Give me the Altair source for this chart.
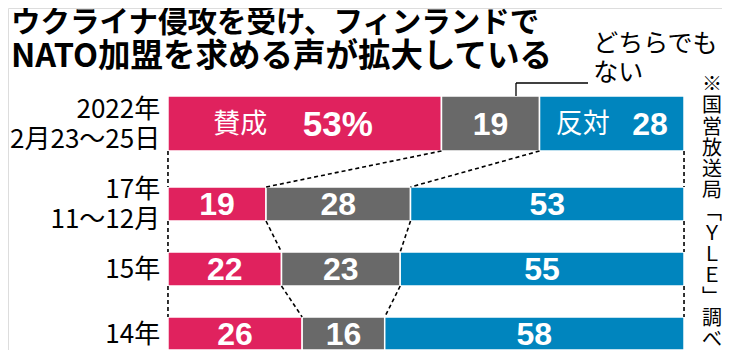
import altair as alt
import pandas as pd

# ---------------- data ----------------
periods = ["2022年\n2月23～25日", "17年\n11～12月", "15年", "14年"]
support = [53, 19, 22, 26]
neutral = [19, 28, 23, 16]
oppose = [28, 53, 55, 58]

title_line1 = "ウクライナ侵攻を受け、フィンランドで"
title_line2 = "NATO加盟を求める声が拡大している"
neutral_note = "どちらでも\nない"
source_chars = ["※", "国", "営", "放", "送", "局", "﹁", "Ｙ", "Ｌ", "Ｅ", "﹂", "調", "べ"]
support_word = "賛成"
oppose_word = "反対"

# ---------------- layout / style ----------------
W, H = 714, 342
ROW_TOP = [88, 179, 244, 309]
ROW_BOT = [143, 213, 278, 342]
X_DOMAIN = [-31.0, 107.36]
CATS = ["support", "neutral", "oppose"]
COLS = ["#E0225E", "#696969", "#0085BE"]
JP = "Noto Sans CJK JP"
NUM = "Liberation Sans"
LABEL_LH = 30

xs = alt.Scale(domain=X_DOMAIN, nice=False, zero=False)
ys = alt.Scale(domain=[0, H], reverse=True, nice=False, zero=False)

# bars
bar_rows = []
for i in range(len(periods)):
    vals = [support[i], neutral[i], oppose[i]]
    start = 0
    for c, v in zip(CATS, vals):
        bar_rows.append({"cat": c, "x0": start, "x1": start + v, "row": i,
                         "y0": ROW_TOP[i], "y1": ROW_BOT[i], "v": v,
                         "mid": start + v / 2, "ym": (ROW_TOP[i] + ROW_BOT[i]) / 2})
        start += v
bars_df = pd.DataFrame(bar_rows)

bars = alt.Chart(bars_df).mark_bar(stroke="white", strokeWidth=1.5).encode(
    x=alt.X("x0:Q", scale=xs, axis=None),
    x2="x1:Q",
    y=alt.Y("y0:Q", scale=ys, axis=None),
    y2="y1:Q",
    color=alt.Color("cat:N", scale=alt.Scale(domain=CATS, range=COLS), legend=None),
)

num_rows, word_rows, big_rows = [], [], []
for r in bar_rows:
    if r["row"] > 0:
        num_rows.append({"t": str(r["v"]), "x": r["mid"], "y": r["ym"] + 1})
    elif r["cat"] == "neutral":
        num_rows.append({"t": str(r["v"]), "x": r["mid"], "y": r["ym"] + 1})
    elif r["cat"] == "support":
        word_rows.append({"t": support_word, "x": r["mid"] - 12.5, "y": r["ym"] + 1})
        big_rows.append({"t": f"{r['v']}%", "x": r["mid"] + 6.4, "y": r["ym"] + 1})
    else:
        word_rows.append({"t": oppose_word, "x": r["mid"] - 5.6, "y": r["ym"] + 1})
        num_rows.append({"t": str(r["v"]), "x": r["mid"] + 7.4, "y": r["ym"] + 1})


def text_layer(df, size, font, weight, color="white", align="center",
               baseline="middle", **kw):
    return alt.Chart(pd.DataFrame(df)).mark_text(
        fontSize=size, font=font, fontWeight=weight, color=color,
        align=align, baseline=baseline, **kw
    ).encode(x=alt.X("x:Q", scale=xs, axis=None),
             y=alt.Y("y:Q", scale=ys, axis=None),
             text="t:N")


nums = text_layer(num_rows, 32, NUM, "bold")
words = text_layer(word_rows, 27, JP, "normal")
big = text_layer(big_rows, 35, NUM, "bold")

# row labels: first line is anchored, so shift multi-line blocks up
lab_rows = []
for i, p in enumerate(periods):
    n = p.count("\n") + 1
    yc = (ROW_TOP[i] + ROW_BOT[i]) / 2 + 1
    lab_rows.append({"t": p, "x": -1.5, "y": yc - (n - 1) * LABEL_LH / 2})
labels = text_layer(lab_rows, 26, JP, "normal", color="black", align="right",
                    lineBreak="\n", lineHeight=LABEL_LH)

# dashed connectors
con_rows = []
for i in range(len(periods) - 1):
    b1 = [0, support[i], support[i] + neutral[i], 100]
    b2 = [0, support[i + 1], support[i + 1] + neutral[i + 1], 100]
    for a, b in zip(b1, b2):
        con_rows.append({"x": a, "x2": b, "y": ROW_BOT[i], "y2": ROW_TOP[i + 1]})
connectors = alt.Chart(pd.DataFrame(con_rows)).mark_rule(
    color="black", strokeWidth=1.6, strokeDash=[4, 3]
).encode(x=alt.X("x:Q", scale=xs, axis=None), x2="x2:Q",
         y=alt.Y("y:Q", scale=ys, axis=None), y2="y2:Q")

# leader line for neutral note
leader_x = support[0] + neutral[0] * 0.76
lead_rows = [
    {"x": leader_x, "x2": 81.4, "y": 75, "y2": 75},
    {"x": leader_x, "x2": leader_x, "y": 75, "y2": ROW_TOP[0]},
]
leader = alt.Chart(pd.DataFrame(lead_rows)).mark_rule(
    color="black", strokeWidth=1.3
).encode(x=alt.X("x:Q", scale=xs, axis=None), x2="x2:Q",
         y=alt.Y("y:Q", scale=ys, axis=None), y2="y2:Q")

note = text_layer([{"t": neutral_note, "x": 82.4, "y": 36}], 25, JP, "normal",
                  color="black", align="left", lineBreak="\n", lineHeight=28.5)

source = text_layer([{"t": "\n".join(source_chars), "x": 105.4, "y": 77}], 20, JP,
                    "normal", color="black", align="center", lineBreak="\n",
                    lineHeight=21.25)

chart = alt.layer(bars, connectors, leader, nums, words, big, labels, note, source).properties(
    width=W, height=H,
    autosize=alt.AutoSizeParams(type="none"),
    padding=0,
    title=alt.Title(
        text=title_line1, subtitle=title_line2,
        anchor="start", frame="group", orient="top", offset=-66, dx=3,
        font=JP, fontSize=29.5, fontWeight="bold", color="black",
        subtitleFont=JP, subtitleFontSize=32.5, subtitleFontWeight="bold",
        subtitleColor="black", subtitlePadding=2,
    ),
).configure_view(stroke=None).configure(background="white")

chart.save("out.html", embed_options={"renderer": "svg", "actions": False})
